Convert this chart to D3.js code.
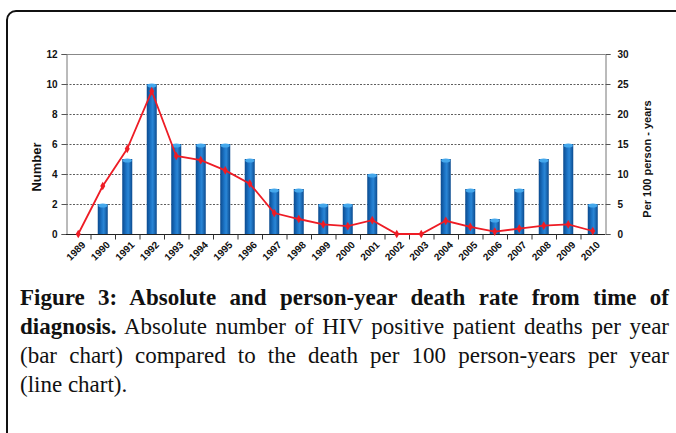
<!DOCTYPE html>
<html><head><meta charset="utf-8">
<script src="https://cdn.jsdelivr.net/npm/d3@7"></script>
<style>
html,body{margin:0;padding:0;background:#fff;width:676px;height:433px;overflow:hidden;}
#cap{position:absolute;left:20px;top:283px;width:649px;font-family:"Liberation Serif","DejaVu Serif",serif;font-size:23px;color:#111;}
#cap div{text-align:justify;text-align-last:justify;line-height:29px;white-space:nowrap;}
#cap div.last{text-align-last:left;}
</style></head><body>
<svg id="chart" width="676" height="433" style="position:absolute;left:0;top:0"></svg>
<div id="cap"></div>
<script>
const years = ["1989","1990","1991","1992","1993","1994","1995","1996","1997","1998","1999","2000","2001","2002","2003","2004","2005","2006","2007","2008","2009","2010"];
const deaths = [0,2,5,10,6,6,6,5,3,3,2,2,4,0,0,5,3,1,3,5,6,2];
const rate = [0,8,14.2,23.8,13,12.3,10.6,8.4,3.5,2.5,1.6,1.3,2.3,0,0,2.2,1.2,0.4,0.9,1.4,1.6,0.5];
const leftTicks = [0,2,4,6,8,10,12];
const rightTicks = [0,5,10,15,20,25,30];
const leftTitle = "Number";
const rightTitle = "Per 100 person - years";
const captionLines = [
  {bold:"Figure 3: Absolute and person-year death rate from time of", rest:""},
  {bold:"diagnosis.", rest:" Absolute number of HIV positive patient deaths per year"},
  {bold:"", rest:"(bar chart) compared to the death per 100 person-years per year"},
  {bold:"", rest:"(line chart)."}
];

const svg = d3.select("#chart");
const FONT = "Liberation Sans, Arial, sans-serif";
// border
svg.append("rect").attr("x",7).attr("y",11).attr("width",700).attr("height",460)
  .attr("rx",9).attr("fill","none").attr("stroke","#111").attr("stroke-width",2);

const L=66, R=605, T=54, B=234;
const x = d3.scaleBand().domain(years).range([L,R]);
const yL = d3.scaleLinear().domain([0,12]).range([B,T]);
const yR = d3.scaleLinear().domain([0,30]).range([B,T]);

const defs = svg.append("defs");
const g = defs.append("linearGradient").attr("id","barg").attr("x1","0").attr("x2","1").attr("y1","0").attr("y2","0");
g.append("stop").attr("offset","0").attr("stop-color","#0b4a8e");
g.append("stop").attr("offset","0.4").attr("stop-color","#1c74c6");
g.append("stop").attr("offset","0.6").attr("stop-color","#2a86d6");
g.append("stop").attr("offset","1").attr("stop-color","#0b4a8e");

// gridlines
svg.append("g").selectAll("line").data(leftTicks.filter(d=>d>0&&d<12)).join("line")
  .attr("x1",L).attr("x2",R).attr("y1",d=>yL(d)+0.5).attr("y2",d=>yL(d)+0.5)
  .attr("stroke","#333").attr("stroke-width",0.8).attr("stroke-dasharray","2,1.5");
svg.append("line").attr("x1",L).attr("x2",R).attr("y1",yL(12)+0.5).attr("y2",yL(12)+0.5)
  .attr("stroke","#888").attr("stroke-width",1);

// bars
const bw = 10;
const bars = svg.append("g");
deaths.forEach((v,i)=>{
  if(v<=0) return;
  const cx = x(years[i]) + x.bandwidth()/2;
  bars.append("rect").attr("x",cx-bw/2).attr("y",yL(v)).attr("width",bw).attr("height",yL(0)-yL(v))
    .attr("fill","url(#barg)");
  bars.append("ellipse").attr("cx",cx).attr("cy",yL(v)+1.5).attr("rx",bw/2-0.5).attr("ry",2)
    .attr("fill","#45a8ec");
});

// axes
const axL = svg.append("g").attr("transform",`translate(${L+0.5},0)`)
  .call(d3.axisLeft(yL).tickValues(leftTicks).tickSize(5).tickPadding(4));
axL.select(".domain").attr("stroke","#777");
axL.selectAll(".tick line").attr("stroke","#555");
axL.selectAll("text").attr("font-family",FONT).attr("font-weight","bold").attr("font-size","10px").attr("fill","#111");

const axR = svg.append("g").attr("transform",`translate(${R+0.5},0)`)
  .call(d3.axisRight(yR).tickValues(rightTicks).tickSize(5).tickPadding(7));
axR.select(".domain").attr("stroke","#777");
axR.selectAll(".tick line").attr("stroke","#555");
axR.selectAll("text").attr("font-family",FONT).attr("font-weight","bold").attr("font-size","10px").attr("fill","#111");

// bottom axis
const axB = svg.append("g").attr("transform",`translate(0,${B+0.5})`);
axB.append("line").attr("x1",L).attr("x2",R).attr("stroke","#222").attr("stroke-width",1);
axB.selectAll("line.tk").data(years.slice(1)).join("line").attr("class","tk")
  .attr("x1",d=>x(d)+0.5).attr("x2",d=>x(d)+0.5).attr("y1",0).attr("y2",5).attr("stroke","#333");
axB.selectAll("text").data(years).join("text")
  .attr("transform",d=>`translate(${x(d)+x.bandwidth()/2+3},${6}) rotate(-45)`)
  .attr("text-anchor","end").attr("dy","0.7em")
  .attr("font-family",FONT).attr("font-weight","bold").attr("font-size","10px").attr("fill","#111")
  .text(d=>d);

// line
const line = d3.line().x((d,i)=>x(years[i])+x.bandwidth()/2).y(d=>yR(d));
svg.append("path").datum(rate).attr("d",line).attr("fill","none").attr("stroke","#ee1c25").attr("stroke-width",1.8);
svg.append("g").selectAll("path").data(rate).join("path")
  .attr("transform",(d,i)=>`translate(${x(years[i])+x.bandwidth()/2},${yR(d)})`)
  .attr("d",d3.symbol(d3.symbolDiamond,22)).attr("fill","#ee1c25");

// titles
svg.append("text").attr("transform",`translate(41,167) rotate(-90)`).attr("text-anchor","middle")
  .attr("font-family",FONT).attr("font-weight","bold").attr("font-size","13px").attr("fill","#111").text(leftTitle);
svg.append("text").attr("transform",`translate(651,159) rotate(-90)`).attr("text-anchor","middle")
  .attr("font-family",FONT).attr("font-weight","bold").attr("font-size","11px").attr("fill","#111").text(rightTitle);

// caption
const cap = d3.select("#cap");
const W = 649;
captionLines.forEach((l,i)=>{
  const d = cap.append("div");
  if(i===captionLines.length-1) d.attr("class","last");
  const inner = d.append("span").style("display","inline");
  if(l.bold) inner.append("b").text(l.bold);
  if(l.rest) inner.append("span").text(l.rest);
  const w = inner.node().getBoundingClientRect().width;
  const n = (l.bold+l.rest).length;
  if(w > W) d.style("letter-spacing", ((W - w)/n - 0.05) + "px");
});
</script>
</body></html>
